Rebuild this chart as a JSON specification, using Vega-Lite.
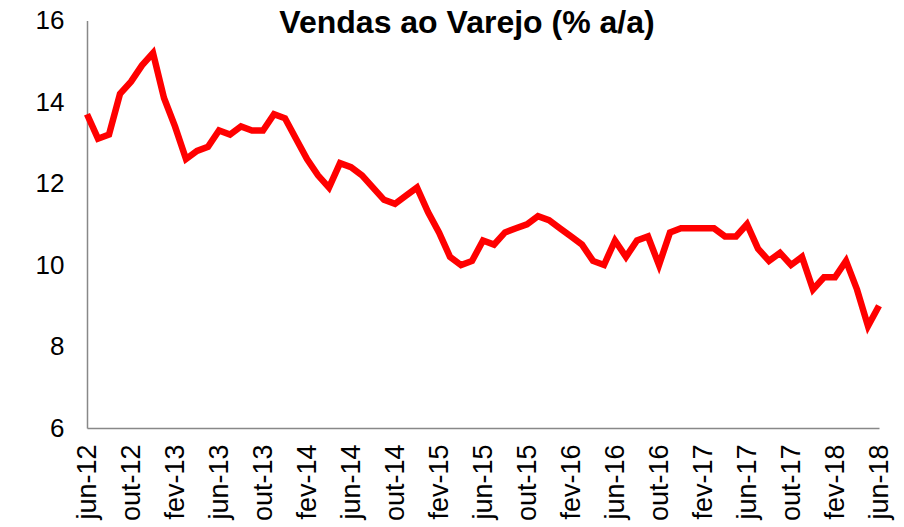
{
  "$schema": "https://vega.github.io/schema/vega-lite/v6.json",
  "width": 792,
  "height": 407.5,
  "autosize": {"type": "none"},
  "padding": {"left": 87, "top": 20.5, "right": 25, "bottom": 99},
  "background": "white",
  "title": {
    "text": "Vendas ao Varejo (% a/a)",
    "font": "Liberation Sans",
    "fontSize": 32,
    "fontWeight": "bold",
    "color": "black",
    "anchor": "middle",
    "baseline": "alphabetic",
    "offset": 0,
    "dy": 57,
    "dx": -16
  },
  "config": {"view": {"stroke": null}},
  "data": {
    "values": [
      {"m": "jun-12", "v": 13.7}, {"m": "jul-12", "v": 13.1}, {"m": "ago-12", "v": 13.2},
      {"m": "set-12", "v": 14.2}, {"m": "out-12", "v": 14.5}, {"m": "nov-12", "v": 14.9},
      {"m": "dez-12", "v": 15.2}, {"m": "jan-13", "v": 14.1}, {"m": "fev-13", "v": 13.4},
      {"m": "mar-13", "v": 12.6}, {"m": "abr-13", "v": 12.8}, {"m": "mai-13", "v": 12.9},
      {"m": "jun-13", "v": 13.3}, {"m": "jul-13", "v": 13.2}, {"m": "ago-13", "v": 13.4},
      {"m": "set-13", "v": 13.3}, {"m": "out-13", "v": 13.3}, {"m": "nov-13", "v": 13.7},
      {"m": "dez-13", "v": 13.6}, {"m": "jan-14", "v": 13.1}, {"m": "fev-14", "v": 12.6},
      {"m": "mar-14", "v": 12.2}, {"m": "abr-14", "v": 11.9}, {"m": "mai-14", "v": 12.5},
      {"m": "jun-14", "v": 12.4}, {"m": "jul-14", "v": 12.2}, {"m": "ago-14", "v": 11.9},
      {"m": "set-14", "v": 11.6}, {"m": "out-14", "v": 11.5}, {"m": "nov-14", "v": 11.7},
      {"m": "dez-14", "v": 11.9}, {"m": "jan-15", "v": 11.3}, {"m": "fev-15", "v": 10.8},
      {"m": "mar-15", "v": 10.2}, {"m": "abr-15", "v": 10.0}, {"m": "mai-15", "v": 10.1},
      {"m": "jun-15", "v": 10.6}, {"m": "jul-15", "v": 10.5}, {"m": "ago-15", "v": 10.8},
      {"m": "set-15", "v": 10.9}, {"m": "out-15", "v": 11.0}, {"m": "nov-15", "v": 11.2},
      {"m": "dez-15", "v": 11.1}, {"m": "jan-16", "v": 10.9}, {"m": "fev-16", "v": 10.7},
      {"m": "mar-16", "v": 10.5}, {"m": "abr-16", "v": 10.1}, {"m": "mai-16", "v": 10.0},
      {"m": "jun-16", "v": 10.6}, {"m": "jul-16", "v": 10.2}, {"m": "ago-16", "v": 10.6},
      {"m": "set-16", "v": 10.7}, {"m": "out-16", "v": 10.0}, {"m": "nov-16", "v": 10.8},
      {"m": "dez-16", "v": 10.9}, {"m": "jan-17", "v": 10.9}, {"m": "fev-17", "v": 10.9},
      {"m": "mar-17", "v": 10.9}, {"m": "abr-17", "v": 10.7}, {"m": "mai-17", "v": 10.7},
      {"m": "jun-17", "v": 11.0}, {"m": "jul-17", "v": 10.4}, {"m": "ago-17", "v": 10.1},
      {"m": "set-17", "v": 10.3}, {"m": "out-17", "v": 10.0}, {"m": "nov-17", "v": 10.2},
      {"m": "dez-17", "v": 9.4}, {"m": "jan-18", "v": 9.7}, {"m": "fev-18", "v": 9.7},
      {"m": "mar-18", "v": 10.1}, {"m": "abr-18", "v": 9.4}, {"m": "mai-18", "v": 8.5},
      {"m": "jun-18", "v": 9.0}
    ]
  },
  "mark": {"type": "line", "color": "#FF0000", "strokeWidth": 6.5},
  "encoding": {
    "x": {
      "field": "m",
      "type": "ordinal",
      "sort": null,
      "scale": {"type": "point", "padding": 0},
      "axis": {
        "values": ["jun-12", "out-12", "fev-13", "jun-13", "out-13", "fev-14", "jun-14", "out-14", "fev-15", "jun-15", "out-15", "fev-16", "jun-16", "out-16", "fev-17", "jun-17", "out-17", "fev-18", "jun-18"],
        "title": null,
        "labelAngle": -90,
        "labelAlign": "right",
        "labelBaseline": "middle",
        "labelFont": "Liberation Sans",
        "labelFontSize": 27,
        "labelColor": "black",
        "labelPadding": 16,
        "labelOverlap": false,
        "ticks": false,
        "grid": false,
        "domainColor": "#888888",
        "domainWidth": 1.5
      }
    },
    "y": {
      "field": "v",
      "type": "quantitative",
      "scale": {"domain": [6, 16], "nice": false, "zero": false},
      "axis": {
        "values": [6, 8, 10, 12, 14, 16],
        "title": null,
        "grid": false,
        "ticks": false,
        "labelFont": "Liberation Sans",
        "labelFontSize": 26,
        "labelColor": "black",
        "labelPadding": 23,
        "labelOverlap": false,
        "domainColor": "#888888",
        "domainWidth": 1.5
      }
    }
  }
}
